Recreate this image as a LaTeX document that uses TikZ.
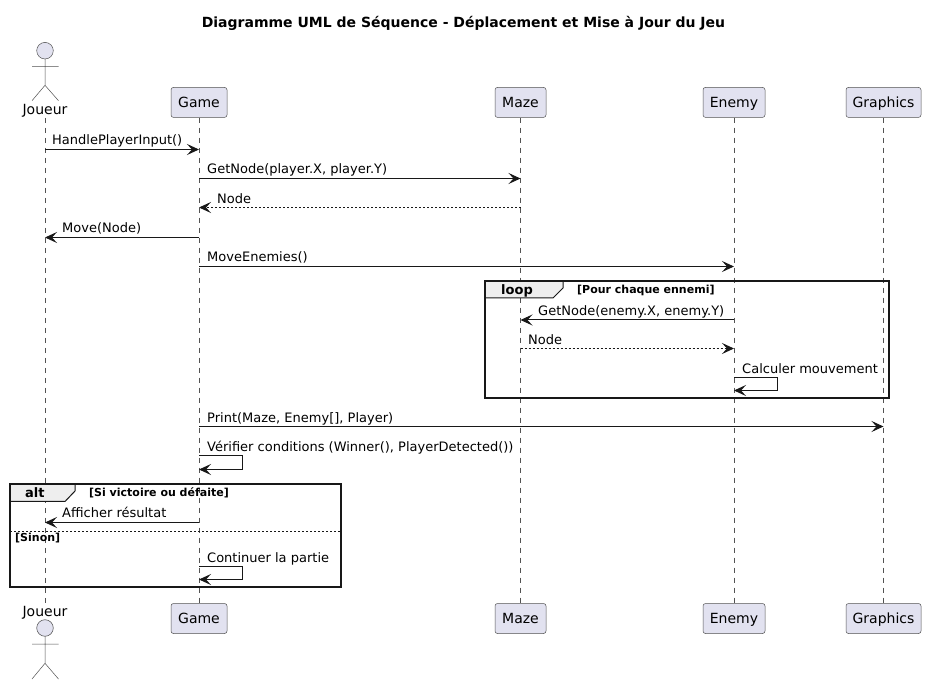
\documentclass[tikz,border=0pt]{standalone}
\usepackage{fontspec}
\setmainfont{DejaVu Sans}
\usetikzlibrary{arrows.meta}
\definecolor{ink}{HTML}{181818}
\definecolor{partfill}{HTML}{E2E2F0}
\definecolor{tabfill}{HTML}{EEEEEE}
\newcommand{\txt}{\fontsize{13}{15}\selectfont}
\newcommand{\parttxt}{\fontsize{14}{16}\selectfont}
\tikzset{
  x=1pt,y=-1pt,
  part/.style={draw=ink!75,fill=partfill,line width=0.5pt,rounded corners=2.5pt,minimum height=30pt,inner xsep=0pt,inner ysep=0pt,text height=9.5pt,text depth=0pt,font=\parttxt,text=black},
  actorname/.style={inner sep=0pt,font=\parttxt,text=black,anchor=base},
  actorhead/.style={draw=ink!75,fill=partfill,line width=0.5pt},
  actorline/.style={draw=ink!75,line width=0.5pt},
  life/.style={draw=ink!75,line width=0.5pt,dash pattern=on 5pt off 5pt},
  msg/.style={draw=ink,line width=1pt,-{Stealth[length=12pt,width=11pt,inset=5pt,color=ink]}},
  ret/.style={draw=ink,line width=1pt,dash pattern=on 2pt off 2pt,-{Stealth[length=12pt,width=11pt,inset=5pt,color=ink]}},
  lbl/.style={inner sep=0pt,anchor=base west,font=\txt,text=black},
  frame/.style={draw=ink,line width=2pt},
  tabshape/.style={draw=ink,fill=tabfill,line width=1pt},
  kw/.style={inner sep=0pt,anchor=base west,font=\fontsize{13}{15}\selectfont\bfseries,text=black},
  guard/.style={inner sep=0pt,anchor=base west,font=\fontsize{11}{13}\selectfont\bfseries,text=black},
}
\begin{document}
\begin{tikzpicture}
\useasboundingbox (0,0) rectangle (927,684);
\fill[white] (0,0) rectangle (927,684);
\node[inner sep=0pt,anchor=base,font=\fontsize{14}{16}\selectfont\bfseries] (title) at (463.5,28) {Diagramme UML de Séquence - Déplacement et Mise à Jour du Jeu};
% lifeline anchors
\coordinate (joueurtop) at (45,118);
\coordinate (joueurbot) at (45,604);
\node[part,minimum width=56pt] (game) at (199,102.4) {Game};
\node[part,minimum width=51pt] (maze) at (520.5,102.4) {Maze};
\node[part,minimum width=62pt] (enemy) at (734,102.4) {Enemy};
\node[part,minimum width=75pt] (graphics) at (883.5,102.4) {Graphics};
\node[part,minimum width=56pt] (gameb) at (199,618.5) {Game};
\node[part,minimum width=51pt] (mazeb) at (520.5,618.5) {Maze};
\node[part,minimum width=62pt] (enemyb) at (734,618.5) {Enemy};
\node[part,minimum width=75pt] (graphicsb) at (883.5,618.5) {Graphics};
\draw[life] (joueurtop) -- (joueurbot);
\draw[life] (game.south) -- (gameb.north);
\draw[life] (maze.south) -- (mazeb.north);
\draw[life] (enemy.south) -- (enemyb.north);
\draw[life] (graphics.south) -- (graphicsb.north);
% actors
\node[actorname] (joueur) at (45,115) {Joueur};
\draw[actorhead] (45,50.7) circle (8.3);
\draw[actorline] (45,59) -- (45,85.3) (32,66.3) -- (58.5,66.3) (32,100.7) -- (45,85.3) -- (58.5,100.7);
\node[actorname] (joueurb) at (45,616.5) {Joueur};
\draw[actorhead] (45,628) circle (8.3);
\draw[actorline] (45,636.3) -- (45,663.3) (32,644) -- (58.5,644) (32,679) -- (45,663.3) -- (58.5,679);
% rows
\foreach \n/\y in {a/149.5,b/178.5,c/207.5,d/237.5,e/266.5,f/320,g/348.5,h/377.5,hh/390.5,i/426.5,j/456,jj/469.5,k/522.5,l/566.5,ll/579.5}
  \coordinate (r\n) at (0,\y);
% messages
\draw[msg] (joueurtop |- ra) -- (game |- ra);
\node[lbl] at (52,145) {HandlePlayerInput()};
\draw[msg] (game |- rb) -- (maze |- rb);
\node[lbl] at (207,174) {GetNode(player.X, player.Y)};
\draw[ret] (maze |- rc) -- (game |- rc);
\node[lbl] at (217,204) {Node};
\draw[msg] (game |- rd) -- (joueurtop |- rd);
\node[lbl] at (62,233) {Move(Node)};
\draw[msg] (game |- re) -- (enemy |- re);
\node[lbl] at (207,262) {MoveEnemies()};
% loop
\draw[tabshape] (485.3,281) -- (563,281) -- (563,288) -- (553,298) -- (485.3,298) -- cycle;
\draw[frame] (485.3,281.5) rectangle (889.3,398.5);
\node[kw] at (501,295) {loop};
\node[guard] at (577,293.5) {[Pour chaque ennemi]};
\draw[msg] (enemy |- rf) -- (maze |- rf);
\node[lbl] at (538,316) {GetNode(enemy.X, enemy.Y)};
\draw[ret] (maze |- rg) -- (enemy |- rg);
\node[lbl] at (528,345) {Node};
\draw[msg] (enemy |- rh) -- ++(43,0) |- (enemy |- rhh);
\node[lbl] at (742,374) {Calculer mouvement};
\draw[msg] (game |- ri) -- (graphics |- ri);
\node[lbl] at (207,423) {Print(Maze, Enemy[], Player)};
\draw[msg] (game |- rj) -- ++(43,0) |- (game |- rjj);
\node[lbl] at (207,452) {Vérifier conditions (Winner(), PlayerDetected())};
% alt
\draw[tabshape] (10.3,484.3) -- (75,484.3) -- (75,491) -- (65,501.5) -- (10.3,501.5) -- cycle;
\draw[frame] (10.3,484.3) rectangle (340.7,587.3);
\node[kw] at (25,498) {alt};
\node[guard] at (89,496.5) {[Si victoire ou défaite]};
\draw[msg] (game |- rk) -- (joueurtop |- rk);
\node[lbl] at (62,518) {Afficher résultat};
\draw[draw=ink,line width=0.75pt,dash pattern=on 2pt off 2pt] (10.3,531.5) -- (340.7,531.5);
\node[guard] at (15,541.5) {[Sinon]};
\draw[msg] (game |- rl) -- ++(43,0) |- (game |- rll);
\node[lbl] at (207,562) {Continuer la partie};
\end{tikzpicture}
\end{document}
